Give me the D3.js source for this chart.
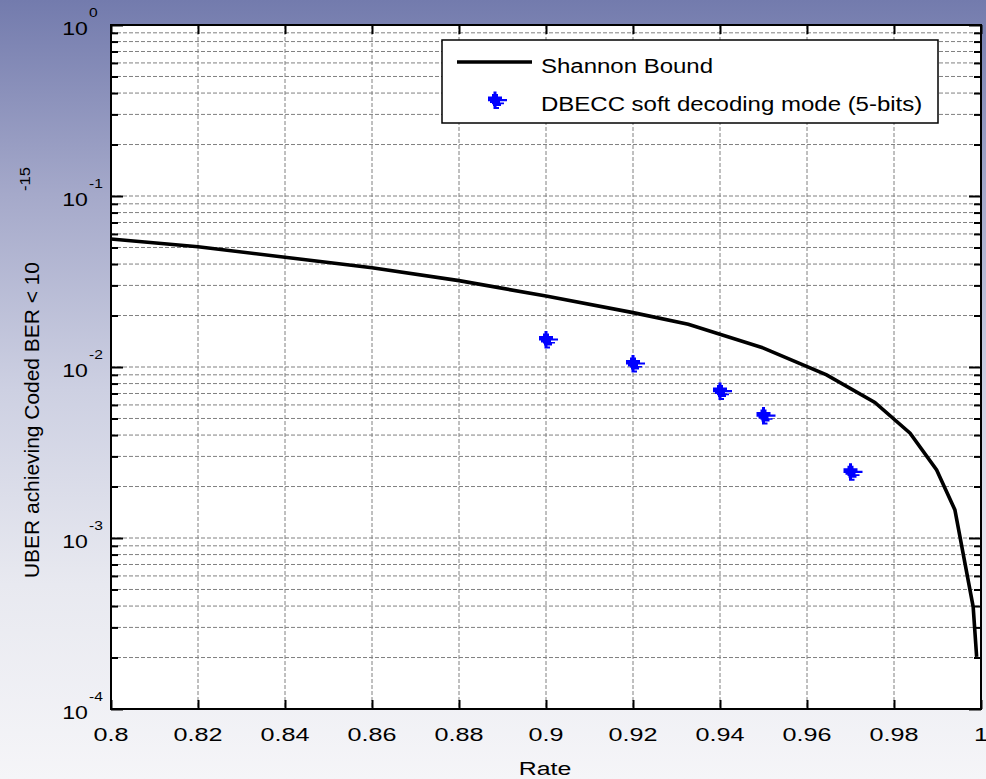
<!DOCTYPE html>
<html><head><meta charset="utf-8">
<script src="https://cdn.jsdelivr.net/npm/d3@7/dist/d3.min.js"></script>
<style>
html,body{margin:0;padding:0;background:#fff;}
svg text{font-family:"Liberation Sans",Arial,Helvetica,sans-serif;fill:#000;}
</style></head>
<body>
<svg id="chart" width="986" height="779"></svg>
<script>
// ---- data ----
const xTickValues = [0.8,0.82,0.84,0.86,0.88,0.9,0.92,0.94,0.96,0.98,1];
const xTickLabels = ["0.8","0.82","0.84","0.86","0.88","0.9","0.92","0.94","0.96","0.98","1"];
const yDecadeValues = [1e-4,1e-3,1e-2,1e-1,1];
const yTickBase = "10";
const yTickExponents = ["-4","-3","-2","-1","0"];

const shannonRate = [0.80,0.82,0.84,0.86,0.88,0.90,0.92,0.9327,0.95,0.9645,0.9756,0.9837,0.9898,0.9940,0.9982,0.9990];
const shannonUber = [0.0561,0.0505,0.0438,0.0381,0.0320,0.0260,0.0208,0.0178,0.0129,0.0090,0.0062,0.0041,0.0025,0.00146,0.000396,0.000202];

const dbeccRate = [0.90,0.92,0.94,0.95,0.97];
const dbeccUber = [0.0145,0.0105,0.00724,0.0052,0.00244];

const legendLabels = ["Shannon Bound","DBECC soft decoding mode (5-bits)"];
const xLabel = "Rate";
const yLabel = "UBER achieving Coded BER < 10";
const yLabelSup = "-15";

// ---- layout ----
const L=111,R=981,T=25,B=709;
const svg=d3.select("#chart");
const defs=svg.append("defs");
const grad=defs.append("linearGradient").attr("id","bg").attr("x1",0).attr("y1",0).attr("x2",0).attr("y2",1);
[[0,"#737bad"],[0.25,"#a5a9ca"],[0.5,"#cdd0e2"],[0.75,"#e8e9f0"],[1,"#f5f5f8"]].forEach(s=>grad.append("stop").attr("offset",s[0]).attr("stop-color",s[1]));
svg.append("rect").attr("width",986).attr("height",779).attr("fill","url(#bg)");

const x=d3.scaleLinear().domain([0.8,1]).range([L,R]);
const y=d3.scaleLog().domain([1e-4,1]).range([B,T]);

svg.append("rect").attr("x",L).attr("y",T).attr("width",R-L).attr("height",B-T).attr("fill","#fff");

const yAll=[];
for(let d=-4; d<0; d++) for(let k=1;k<=9;k++) yAll.push(k*Math.pow(10,d));
yAll.push(1);

function stretch(sel,sx){
  sel.each(function(){const w=this.getComputedTextLength(); d3.select(this).attr("textLength",w*sx).attr("lengthAdjust","spacingAndGlyphs");});
}

// grid
const grid=svg.append("g");
grid.selectAll("line.gx").data(xTickValues.slice(1,-1)).join("line")
  .attr("x1",d=>x(d)).attr("x2",d=>x(d)).attr("y1",T).attr("y2",B)
  .attr("stroke","#808080").attr("stroke-width",1).attr("stroke-dasharray","4,2");
grid.selectAll("line.gy").data(yAll.slice(1,-1)).join("line")
  .attr("y1",d=>y(d)).attr("y2",d=>y(d)).attr("x1",L).attr("x2",R)
  .attr("stroke","#808080").attr("stroke-width",1).attr("stroke-dasharray","4,2");

function styleAxis(g){g.select(".domain").remove(); g.selectAll(".tick line").attr("stroke","#000").attr("stroke-width",2); g.selectAll(".tick text").remove();}
svg.append("g").attr("transform",`translate(0,${B})`).call(d3.axisBottom(x).tickValues(xTickValues).tickSize(-9)).call(styleAxis);
svg.append("g").attr("transform",`translate(0,${T})`).call(d3.axisTop(x).tickValues(xTickValues).tickSize(-9)).call(styleAxis);
const minorY=yAll.filter(v=>!yDecadeValues.includes(v));
svg.append("g").attr("transform",`translate(${L},0)`).call(d3.axisLeft(y).tickValues(minorY).tickSize(-7)).call(styleAxis);
svg.append("g").attr("transform",`translate(${R},0)`).call(d3.axisRight(y).tickValues(minorY).tickSize(-7)).call(styleAxis);
svg.append("g").attr("transform",`translate(${L},0)`).call(d3.axisLeft(y).tickValues(yDecadeValues).tickSize(-12)).call(styleAxis);
svg.append("g").attr("transform",`translate(${R},0)`).call(d3.axisRight(y).tickValues(yDecadeValues).tickSize(-12)).call(styleAxis);

svg.append("rect").attr("x",L).attr("y",T).attr("width",R-L).attr("height",B-T).attr("fill","none").attr("stroke","#000").attr("stroke-width",2);

// x tick labels
const xl=svg.append("g").selectAll("text").data(xTickValues).join("text")
  .attr("x",d=>x(d)).attr("y",741).attr("text-anchor","middle").attr("font-size",18.5)
  .text((d,i)=>xTickLabels[i]);
stretch(xl,1.36);

// y tick labels
const yl=svg.append("g");
yl.selectAll("text.b").data(yDecadeValues).join("text").attr("class","b")
  .attr("x",88).attr("y",d=>y(d)+9.5).attr("text-anchor","end").attr("font-size",18.5).text(yTickBase)
  .call(s=>stretch(s,1.25));
yl.selectAll("text.e").data(yDecadeValues).join("text").attr("class","e")
  .attr("x",89).attr("y",d=>y(d)-8.5).attr("text-anchor","start").attr("font-size",12).text((d,i)=>yTickExponents[i])
  .call(s=>stretch(s,1.3));

// axis labels
const xt=svg.append("text").attr("x",545).attr("y",775).attr("text-anchor","middle").attr("font-size",18).text(xLabel);
stretch(xt,1.38);
svg.append("text").attr("transform","translate(39,578) rotate(-90)").attr("font-size",21)
  .attr("textLength",316).attr("lengthAdjust","spacingAndGlyphs").text(yLabel);
svg.append("text").attr("transform","translate(30,179) rotate(-90)").attr("text-anchor","middle").attr("font-size",15)
  .attr("textLength",24).attr("lengthAdjust","spacingAndGlyphs").text(yLabelSup);

// Shannon line
const line=d3.line().x((d,i)=>x(shannonRate[i])).y(d=>y(d));
svg.append("path").attr("d",line(shannonUber)).attr("fill","none").attr("stroke","#000").attr("stroke-width",3.6).attr("stroke-linejoin","miter");

// marker shape
const markerPath="M-1.5,-8.5h3v17.5h-3Z M-3,-6h6v3h-6Z M-7,-3.5h14v3h-14Z M-7,-1h19v2.2h-19Z M-5,1h10v2h-10Z M-3,2.6h12v1.6h-12Z M-2,4.2h8v1.8h-8Z M-1,7h5v2h-5Z";
svg.append("g").selectAll("path").data(dbeccUber).join("path")
  .attr("transform",(d,i)=>`translate(${x(dbeccRate[i])},${y(d)})`)
  .attr("d",markerPath).attr("fill","#0000ff");

// legend
const lg=svg.append("g");
lg.append("rect").attr("x",442).attr("y",40).attr("width",496).attr("height",83).attr("fill","#fff").attr("stroke","#000").attr("stroke-width",1.5);
lg.append("line").attr("x1",457).attr("x2",532).attr("y1",62).attr("y2",62).attr("stroke","#000").attr("stroke-width",3.6);
lg.append("path").attr("transform","translate(495,100)").attr("d",markerPath).attr("fill","#0000ff");
lg.selectAll("text").data(legendLabels).join("text")
  .attr("x",541).attr("y",(d,i)=>i===0?73:111).attr("font-size",19.5).text(d=>d)
  .call(s=>stretch(s,1.23));
</script>
</body></html>
